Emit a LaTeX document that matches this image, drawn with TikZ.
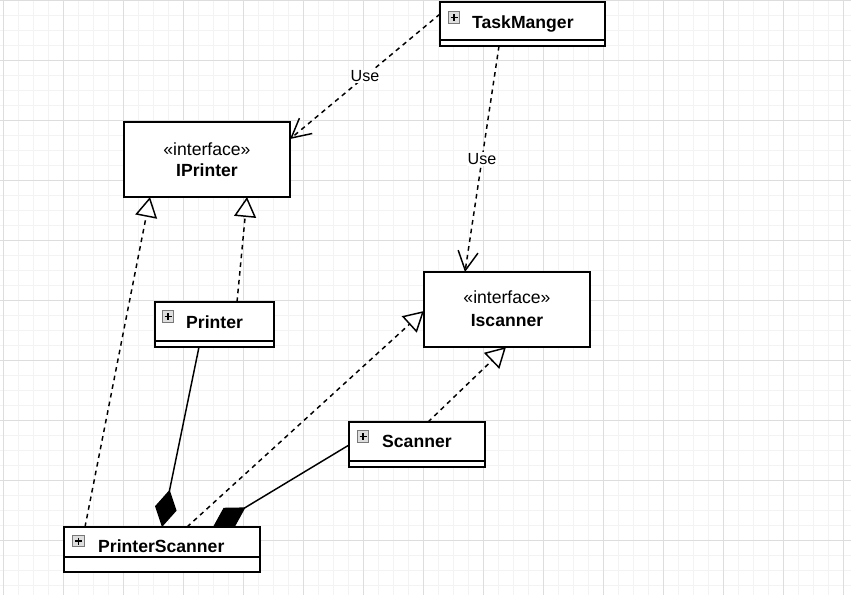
\documentclass[tikz,border=0pt]{standalone}
\usepackage{fontspec}
\setmainfont{Liberation Sans}
\usetikzlibrary{arrows.meta,calc}
\definecolor{gminor}{RGB}{243,243,243}
\definecolor{gmajor}{RGB}{221,221,221}
\definecolor{iconfill}{RGB}{222,222,222}
\definecolor{iconborder}{RGB}{120,120,120}
\pgfdeclarelayer{gridlayer}
\pgfdeclarelayer{links}
\pgfsetlayers{gridlayer,links,main}
\begin{document}
\begin{tikzpicture}[x=1pt,y=-1pt,
  classbox/.style={draw=black,line width=1.47pt,fill=white,inner sep=0pt,outer sep=0pt},
  namelabel/.style={font=\fontsize{17.6}{20}\selectfont\bfseries,anchor=base west,inner sep=0pt},
  stereo/.style={font=\fontsize{17.6}{20}\selectfont,anchor=base,inner sep=0pt},
  ifname/.style={font=\fontsize{17.6}{20}\selectfont\bfseries,anchor=base,inner sep=0pt},
  uselabel/.style={font=\fontsize{16.1}{18}\selectfont,fill=white,inner sep=1pt},
  plusicon/.style={draw=iconborder,fill=iconfill,line width=1pt,minimum size=11.5pt,inner sep=0pt},
  plussign/.style={black,line width=1.6pt},
  divider/.style={line width=1.47pt},
  dep/.style={line width=1.47pt,dash pattern=on 4.6pt off 4.2pt,-{Straight Barb[length=19pt,width=20pt]}},
  real/.style={line width=1.47pt,dash pattern=on 4.6pt off 4.2pt,-{Triangle[length=20pt,width=22pt,fill=white]}},
  comp/.style={line width=1.47pt,-{Diamond[length=38pt,width=22pt,fill=black]}}
]
\useasboundingbox (0,0) rectangle (851,595);
\begin{pgfonlayer}{gridlayer}
  \fill[white] (0,0) rectangle (851,595);
  \foreach \i in {0,...,56} {\draw[gminor,line width=1pt] ({3.3+15*\i},0) -- ({3.3+15*\i},595);}
  \foreach \j in {0,...,39} {\draw[gminor,line width=1pt] (0,{15*\j}) -- (851,{15*\j});}
  \foreach \i in {0,...,14} {\draw[gmajor,line width=1pt] ({3.3+60*\i},0) -- ({3.3+60*\i},595);}
  \foreach \j in {0,...,9} {\draw[gmajor,line width=1pt] (0,{60*\j}) -- (851,{60*\j});}
\end{pgfonlayer}

% class boxes
\node[classbox,minimum width=165pt,minimum height=44pt] (tm) at (522.5,24) {};
\draw[divider] ($(tm.south west)+(0,-6)$) -- ($(tm.south east)+(0,-6)$);
\node[plusicon] (tmicon) at (454,17.5) {};
\draw[plussign] ($(tmicon.center)+(-3.5,0)$) -- ($(tmicon.center)+(3.5,0)$);
\draw[plussign] ($(tmicon.center)+(0,-3.5)$) -- ($(tmicon.center)+(0,3.5)$);
\node[namelabel] (tmname) at (472,28) {TaskManger};

\node[classbox,minimum width=166pt,minimum height=75pt] (ip) at (207,159.5) {};
\node[stereo] (ipst) at (207,155) {«interface»};
\node[ifname] (ipname) at (207,176) {IPrinter};

\node[classbox,minimum width=166pt,minimum height=75pt] (is) at (507,309.5) {};
\node[stereo] (isst) at (507,303) {«interface»};
\node[ifname] (isname) at (507,326) {Iscanner};

\node[classbox,minimum width=119pt,minimum height=45pt] (pr) at (214.5,324.5) {};
\draw[divider] ($(pr.south west)+(0,-6)$) -- ($(pr.south east)+(0,-6)$);
\node[plusicon] (pricon) at (168,316.5) {};
\draw[plussign] ($(pricon.center)+(-3.5,0)$) -- ($(pricon.center)+(3.5,0)$);
\draw[plussign] ($(pricon.center)+(0,-3.5)$) -- ($(pricon.center)+(0,3.5)$);
\node[namelabel] (prname) at (186,328) {Printer};

\node[classbox,minimum width=136pt,minimum height=45pt] (sc) at (417,444.5) {};
\draw[divider] ($(sc.south west)+(0,-6)$) -- ($(sc.south east)+(0,-6)$);
\node[plusicon] (scicon) at (363,436.5) {};
\draw[plussign] ($(scicon.center)+(-3.5,0)$) -- ($(scicon.center)+(3.5,0)$);
\draw[plussign] ($(scicon.center)+(0,-3.5)$) -- ($(scicon.center)+(0,3.5)$);
\node[namelabel] (scname) at (382,447.5) {Scanner};

\node[classbox,minimum width=196pt,minimum height=45pt] (ps) at (162,549.5) {};
\draw[divider] ($(ps.south west)+(0,-15)$) -- ($(ps.south east)+(0,-15)$);
\node[plusicon] (psicon) at (78.5,541) {};
\draw[plussign] ($(psicon.center)+(-3.5,0)$) -- ($(psicon.center)+(3.5,0)$);
\draw[plussign] ($(psicon.center)+(0,-3.5)$) -- ($(psicon.center)+(0,3.5)$);
\node[namelabel] (psname) at (98,552.3) {PrinterScanner};

% connectors
\begin{pgfonlayer}{links}
  \draw[dep] ($(tm.north west)+(0,12)$) -- node[uselabel,pos=0.5] (use1) {Use} ($(ip.north east)+(0,17)$);
  \draw[dep] ($(tm.south west)+(59,0)$) -- node[uselabel,pos=0.5] (use2) {Use} ($(is.north west)+(41,0)$);
  \draw[real] ($(pr.north west)+(82,0)$) -- ($(ip.south west)+(123,0)$);
  \draw[real] ($(ps.north west)+(21,0)$) -- ($(ip.south west)+(26,0)$);
  \draw[real] ($(ps.north west)+(123,0)$) -- ($(is.north west)+(0,39)$);
  \draw[real] ($(sc.north west)+(79,0)$) -- ($(is.south west)+(82,0)$);
  \draw[comp] ($(pr.south west)+(44,0)$) -- ($(ps.north west)+(98,0)$);
  \draw[comp] ($(sc.north west)+(0,23)$) -- ($(ps.north west)+(149,0)$);
\end{pgfonlayer}
\end{tikzpicture}
\end{document}
